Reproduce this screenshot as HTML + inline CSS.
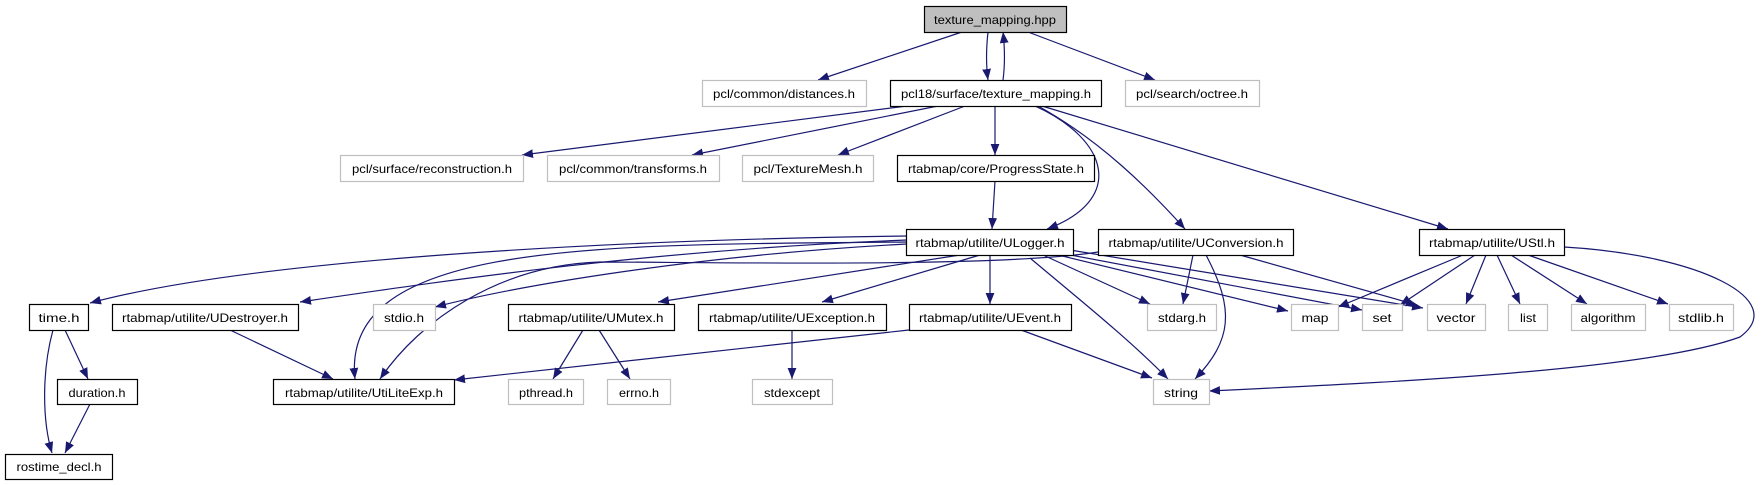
<!DOCTYPE html>
<html><head><meta charset="utf-8"><style>
html,body{margin:0;padding:0;background:#fff;width:1764px;height:485px;overflow:hidden}
svg text{font-family:"Liberation Sans",sans-serif;font-size:12px;fill:#000}
</style></head><body>
<svg width="1764" height="485" viewBox="0 0 1764 485" xmlns="http://www.w3.org/2000/svg">
<defs>
<marker id="a" viewBox="0 0 10 10" refX="10" refY="5" markerWidth="11" markerHeight="11" markerUnits="userSpaceOnUse" orient="auto">
<path d="M0,1 L10,5 L0,9 z" fill="#191970"/></marker>
</defs>
<g fill="none" stroke="#191970" stroke-width="1.2" marker-end="url(#a)">
<path d="M962,32 L818,80"/>
<path d="M988,32 C986,50 986,65 988,80"/>
<path d="M1003,80 C1005,65 1005,50 1003,32"/>
<path d="M1028,32 L1155,80"/>
<path d="M907,106 L522,155"/>
<path d="M938,106 L692,155"/>
<path d="M965,106 L838,155"/>
<path d="M995,106 L995,155"/>
<path d="M1035,106 C1110,140 1125,200 1047,229"/>
<path d="M1038,106 C1100,140 1150,190 1185,229"/>
<path d="M1042,106 L1448,229"/>
<path d="M995,181 L992,229"/>
<path d="M907,236 C600,240 250,260 90,303"/>
<path d="M907,240 C650,250 450,280 300,302"/>
<path d="M907,244 C700,255 520,285 435,307"/>
<path d="M907,242 C600,245 340,240 355,379"/>
<path d="M960,255 L658,302"/>
<path d="M980,255 L822,302"/>
<path d="M990,255 L990,304"/>
<path d="M1043,255 L1150,304"/>
<path d="M1050,253 L1288,311"/>
<path d="M1060,253 L1362,310"/>
<path d="M1070,250 L1423,308"/>
<path d="M1030,258 C1080,300 1130,340 1168,379"/>
<path d="M1193,255 L1183,304"/>
<path d="M1206,255 C1235,310 1232,340 1195,379"/>
<path d="M1240,255 L1417,305"/>
<path d="M1098,252 C1000,268 700,262 600,262 C500,265 420,320 380,379"/>
<path d="M909,330 L454,380"/>
<path d="M1463,255 L1338,307"/>
<path d="M1475,255 L1400,305"/>
<path d="M1486,255 L1466,304"/>
<path d="M1497,255 L1520,304"/>
<path d="M1511,255 L1587,304"/>
<path d="M1528,255 L1668,304"/>
<path d="M1564,247 C1700,255 1790,300 1740,337 C1650,370 1400,382 1209,391"/>
<path d="M230,330 L333,379"/>
<path d="M583,330 L553,379"/>
<path d="M599,330 L630,379"/>
<path d="M792,330 L792,379"/>
<path d="M1021,330 L1152,378"/>
<path d="M65,330 L88,379"/>
<path d="M53,330 C42,370 42,420 52,453"/>
<path d="M90,404 L65,453"/>
</g>
<g stroke-width="1.2">
<rect x="924.5" y="6.5" width="142" height="26" fill="#bfbfbf" stroke="#000"/>
<rect x="702.5" y="80.5" width="164" height="26" fill="#fff" stroke="#bfbfbf"/>
<rect x="890.5" y="80.5" width="211" height="26" fill="#fff" stroke="#000"/>
<rect x="1125.5" y="80.5" width="134" height="26" fill="#fff" stroke="#bfbfbf"/>
<rect x="340.5" y="155.5" width="183" height="26" fill="#fff" stroke="#bfbfbf"/>
<rect x="547.5" y="155.5" width="172" height="26" fill="#fff" stroke="#bfbfbf"/>
<rect x="742.5" y="155.5" width="131" height="26" fill="#fff" stroke="#bfbfbf"/>
<rect x="897.5" y="155.5" width="197" height="26" fill="#fff" stroke="#000"/>
<rect x="906.5" y="229.5" width="167" height="26" fill="#fff" stroke="#000"/>
<rect x="1098.5" y="229.5" width="195" height="26" fill="#fff" stroke="#000"/>
<rect x="1419.5" y="229.5" width="145" height="26" fill="#fff" stroke="#000"/>
<rect x="29.5" y="304.5" width="59" height="26" fill="#fff" stroke="#000"/>
<rect x="112.5" y="304.5" width="186" height="26" fill="#fff" stroke="#000"/>
<rect x="373.5" y="304.5" width="62" height="26" fill="#fff" stroke="#bfbfbf"/>
<rect x="508.5" y="304.5" width="166" height="26" fill="#fff" stroke="#000"/>
<rect x="698.5" y="304.5" width="188" height="26" fill="#fff" stroke="#000"/>
<rect x="909.5" y="304.5" width="162" height="26" fill="#fff" stroke="#000"/>
<rect x="1147.5" y="304.5" width="69" height="26" fill="#fff" stroke="#bfbfbf"/>
<rect x="1291.5" y="304.5" width="47" height="26" fill="#fff" stroke="#bfbfbf"/>
<rect x="1362.5" y="304.5" width="40" height="26" fill="#fff" stroke="#bfbfbf"/>
<rect x="1427.5" y="304.5" width="58" height="26" fill="#fff" stroke="#bfbfbf"/>
<rect x="1508.5" y="304.5" width="39" height="26" fill="#fff" stroke="#bfbfbf"/>
<rect x="1571.5" y="304.5" width="74" height="26" fill="#fff" stroke="#bfbfbf"/>
<rect x="1669.5" y="304.5" width="64" height="26" fill="#fff" stroke="#bfbfbf"/>
<rect x="57.5" y="379.5" width="80" height="25" fill="#fff" stroke="#000"/>
<rect x="273.5" y="379.5" width="181" height="25" fill="#fff" stroke="#000"/>
<rect x="508.5" y="379.5" width="75" height="25" fill="#fff" stroke="#bfbfbf"/>
<rect x="607.5" y="379.5" width="63" height="25" fill="#fff" stroke="#bfbfbf"/>
<rect x="752.5" y="379.5" width="80" height="25" fill="#fff" stroke="#bfbfbf"/>
<rect x="1153.5" y="379.5" width="56" height="25" fill="#fff" stroke="#bfbfbf"/>
<rect x="5.5" y="454.5" width="107" height="25" fill="#fff" stroke="#000"/>
</g>
<g text-anchor="middle">
<text x="995" y="24" textLength="122" lengthAdjust="spacingAndGlyphs">texture_mapping.hpp</text>
<text x="784" y="98" textLength="142" lengthAdjust="spacingAndGlyphs">pcl/common/distances.h</text>
<text x="996" y="98" textLength="190" lengthAdjust="spacingAndGlyphs">pcl18/surface/texture_mapping.h</text>
<text x="1192" y="98" textLength="112" lengthAdjust="spacingAndGlyphs">pcl/search/octree.h</text>
<text x="432" y="173" textLength="160" lengthAdjust="spacingAndGlyphs">pcl/surface/reconstruction.h</text>
<text x="633" y="173" textLength="148" lengthAdjust="spacingAndGlyphs">pcl/common/transforms.h</text>
<text x="808" y="173" textLength="109" lengthAdjust="spacingAndGlyphs">pcl/TextureMesh.h</text>
<text x="996" y="173" textLength="176" lengthAdjust="spacingAndGlyphs">rtabmap/core/ProgressState.h</text>
<text x="990" y="247" textLength="149" lengthAdjust="spacingAndGlyphs">rtabmap/utilite/ULogger.h</text>
<text x="1196" y="247" textLength="175" lengthAdjust="spacingAndGlyphs">rtabmap/utilite/UConversion.h</text>
<text x="1492" y="247" textLength="126" lengthAdjust="spacingAndGlyphs">rtabmap/utilite/UStl.h</text>
<text x="59" y="322" textLength="41" lengthAdjust="spacingAndGlyphs">time.h</text>
<text x="205" y="322" textLength="166" lengthAdjust="spacingAndGlyphs">rtabmap/utilite/UDestroyer.h</text>
<text x="404" y="322" textLength="40" lengthAdjust="spacingAndGlyphs">stdio.h</text>
<text x="591" y="322" textLength="145" lengthAdjust="spacingAndGlyphs">rtabmap/utilite/UMutex.h</text>
<text x="792" y="322" textLength="166" lengthAdjust="spacingAndGlyphs">rtabmap/utilite/UException.h</text>
<text x="990" y="322" textLength="142" lengthAdjust="spacingAndGlyphs">rtabmap/utilite/UEvent.h</text>
<text x="1182" y="322" textLength="48" lengthAdjust="spacingAndGlyphs">stdarg.h</text>
<text x="1315" y="322" textLength="27" lengthAdjust="spacingAndGlyphs">map</text>
<text x="1382" y="322" textLength="19" lengthAdjust="spacingAndGlyphs">set</text>
<text x="1456" y="322" textLength="39" lengthAdjust="spacingAndGlyphs">vector</text>
<text x="1528" y="322" textLength="16" lengthAdjust="spacingAndGlyphs">list</text>
<text x="1608" y="322" textLength="55" lengthAdjust="spacingAndGlyphs">algorithm</text>
<text x="1701" y="322" textLength="46" lengthAdjust="spacingAndGlyphs">stdlib.h</text>
<text x="97" y="397" textLength="57" lengthAdjust="spacingAndGlyphs">duration.h</text>
<text x="364" y="397" textLength="158" lengthAdjust="spacingAndGlyphs">rtabmap/utilite/UtiLiteExp.h</text>
<text x="546" y="397" textLength="54" lengthAdjust="spacingAndGlyphs">pthread.h</text>
<text x="639" y="397" textLength="40" lengthAdjust="spacingAndGlyphs">errno.h</text>
<text x="792" y="397" textLength="56" lengthAdjust="spacingAndGlyphs">stdexcept</text>
<text x="1181" y="397" textLength="34" lengthAdjust="spacingAndGlyphs">string</text>
<text x="59" y="471" textLength="85" lengthAdjust="spacingAndGlyphs">rostime_decl.h</text>
</g>
</svg>
</body></html>
